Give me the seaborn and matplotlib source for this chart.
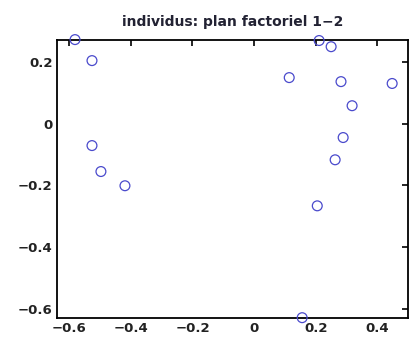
import matplotlib
matplotlib.use("Agg")
import matplotlib.pyplot as plt
import seaborn as sns
import pandas as pd

# Coordinates of individuals on the factorial plane (axes 1-2)
axis1 = [-0.581, -0.526, 0.114, 0.211, 0.250, 0.282, 0.448, 0.318,
         -0.526, -0.497, -0.419, 0.289, 0.263, 0.205, 0.156]
axis2 = [0.272, 0.204, 0.149, 0.269, 0.249, 0.136, 0.130, 0.058,
         -0.071, -0.155, -0.201, -0.045, -0.117, -0.266, -0.628]
xticks = [-0.6, -0.4, -0.2, 0, 0.2, 0.4]
xticklabels = ["\u22120.6", "\u22120.4", "\u22120.2", "0", "0.2", "0.4"]
yticks = [0.2, 0, -0.2, -0.4, -0.6]
yticklabels = ["0.2", "0", "\u22120.2", "\u22120.4", "\u22120.6"]
title = "individus: plan factoriel 1\u22122"

sns.set_style("white")
plt.rcParams['font.family'] = ['DejaVu Sans']

df = pd.DataFrame({"f1": axis1, "f2": axis2})

fig = plt.figure(figsize=(4.09, 3.47), dpi=100, facecolor="white")
ax = fig.add_axes([0.139, 0.0836, 0.859, 0.8014])
sns.scatterplot(data=df, x="f1", y="f2", ax=ax, marker="o", s=50,
                facecolors="none", edgecolor="#4a4acc", linewidth=0.9,
                clip_on=False, zorder=5)
ax.set_xlim(-0.64, 0.50)
ax.set_ylim(-0.629, 0.271)
ax.set_xticks(xticks)
ax.set_xticklabels(xticklabels)
ax.set_yticks(yticks)
ax.set_yticklabels(yticklabels)
ax.set_xlabel("")
ax.set_ylabel("")
ax.tick_params(direction="in", top=True, right=True, length=4, width=1.2,
               labelsize=9.5, colors="black", pad=3)
for lab in ax.get_xticklabels() + ax.get_yticklabels():
    lab.set_fontweight("bold")
    lab.set_color("#222222")
for side in ["left", "bottom", "top", "right"]:
    ax.spines[side].set_visible(True)
    ax.spines[side].set_color("black")
    ax.spines[side].set_linewidth(1.3)
ax.set_title(title, fontsize=10, pad=10, color="#222233", fontweight="semibold")
fig.savefig("out.png", dpi=100, facecolor="white")
